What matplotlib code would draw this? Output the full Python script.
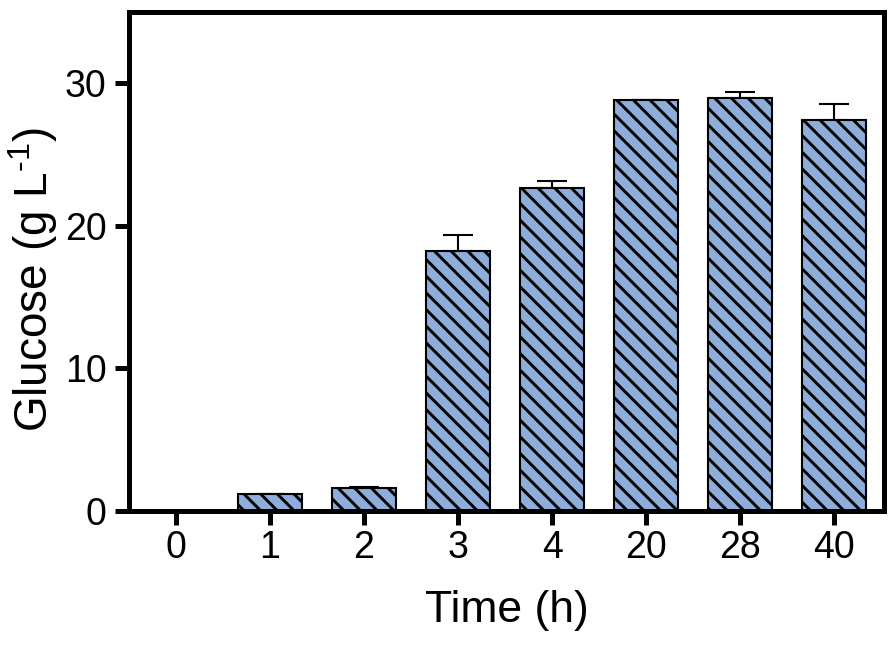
import numpy as np
import matplotlib
matplotlib.use('Agg')
import matplotlib.pyplot as plt

plt.rcParams['font.family'] = ['Liberation Sans', 'DejaVu Sans']
plt.rcParams['mathtext.fontset'] = 'custom'
plt.rcParams['mathtext.rm'] = 'Liberation Sans'
plt.rcParams['hatch.linewidth'] = 2.1

time_labels = ['0', '1', '2', '3', '4', '20', '28', '40']
glucose = [0.0, 1.19, 1.62, 18.2, 22.65, 28.8, 28.95, 27.4]
glucose_err = [0.0, 0.02, 0.05, 1.15, 0.5, 0.05, 0.45, 1.15]

fig = plt.figure(figsize=(8.92, 6.51), dpi=100)
ax = fig.add_axes([0.1446, 0.2151, 0.991 - 0.1446, 0.9816 - 0.2151])

x = np.arange(len(time_labels))
ax.bar(x, glucose, width=0.68, color='#8EADDB', edgecolor='black',
       linewidth=1.5, hatch='\\\\', zorder=2)
ax.errorbar(x, glucose, yerr=[np.zeros(len(glucose)), glucose_err],
            fmt='none', ecolor='black', elinewidth=1.5, capsize=11,
            capthick=1.5, zorder=1)

ax.set_xlim(-0.5, 7.53)
ax.set_ylim(0, 35)
ax.set_xticks(x)
ax.set_xticklabels(time_labels)
ax.set_yticks([0, 10, 20, 30])

for s in ax.spines.values():
    s.set_linewidth(3.6)
ax.tick_params(axis='both', width=3.6, length=10, labelsize=27)
ax.tick_params(axis='x', pad=4)
ax.tick_params(axis='y', pad=6)

ax.set_xlabel('Time (h)', fontsize=32, labelpad=17)
ax.set_ylabel('Glucose (g L$^{\\text{-1}}$)', fontsize=33)
ax.yaxis.set_label_coords(-0.091, 0.463)

fig.savefig('out.png', dpi=100)
